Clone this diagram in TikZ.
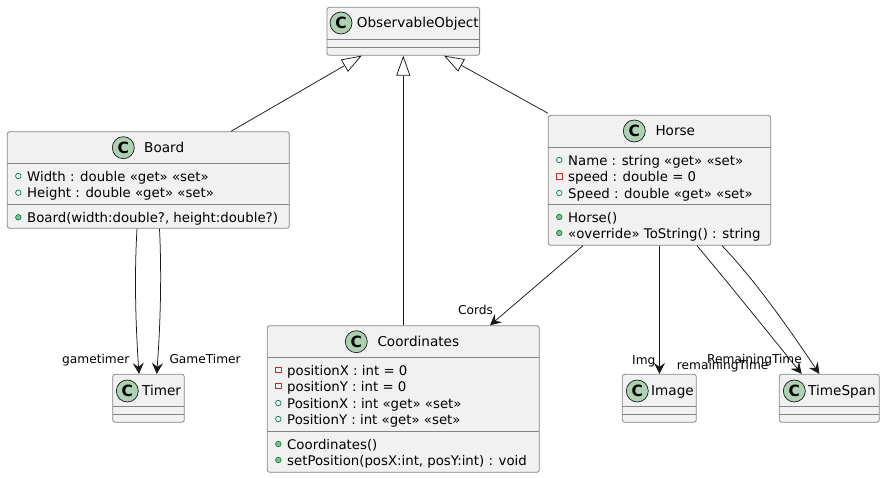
\documentclass[tikz,border=0pt]{standalone}
\usepackage{fontspec}
\setmainfont{DejaVu Sans}
\usetikzlibrary{arrows.meta}
\definecolor{boxfill}{HTML}{F1F1F1}
\definecolor{boxline}{HTML}{858585}
\definecolor{spotfill}{HTML}{ADD1B2}
\definecolor{edgeline}{HTML}{181818}
\definecolor{publine}{HTML}{038048}
\definecolor{pubfill}{HTML}{84BE84}
\definecolor{privline}{HTML}{C82930}
\tikzset{
	classbox/.style={draw=boxline, fill=boxfill, line width=0.8pt, rounded corners=2.5pt, inner sep=0pt},
	sepline/.style={draw=boxline, line width=0.8pt},
	spot/.style={circle, draw=edgeline, fill=spotfill, line width=0.7pt, minimum size=22pt, inner sep=0pt, font=\fontsize{15.5}{15.5}\selectfont\bfseries},
	title/.style={anchor=west, inner sep=0pt, text height=11pt, text depth=2pt, font=\fontsize{13.6}{15}\selectfont},
	member/.style={anchor=west, inner sep=0pt, text height=12pt, text depth=1.5pt, font=\fontsize{13.3}{15}\selectfont},
	edgelabel/.style={anchor=west, inner sep=0pt, text height=10.5pt, text depth=1.5pt, font=\fontsize{12.2}{14}\selectfont},
	pubfield/.style={circle, draw=publine, line width=0.7pt, minimum size=5.5pt, inner sep=0pt},
	pubmethod/.style={circle, draw=publine, fill=pubfill, line width=0.7pt, minimum size=5.5pt, inner sep=0pt},
	privfield/.style={rectangle, draw=privline, line width=0.7pt, minimum size=5.5pt, inner sep=0pt},
	extends/.style={draw=edgeline, line width=0.75pt, -{Triangle[open, length=20pt, width=14pt, fill=white]}},
	uses/.style={draw=edgeline, line width=0.75pt, -{Stealth[length=11pt, width=11pt, inset=4pt]}}
}

\begin{document}
\begin{tikzpicture}[x=1pt, y=-1pt]
	%%%%% START %%%%%
	\useasboundingbox (0, 0) rectangle (885, 478);
	
	\node[classbox, minimum width=152.6pt, minimum height=48pt] (observable) at (403.3, 31.3) {};
	\draw[sepline] (326.9, 39.3) -- (479.6, 39.3);
	\draw[sepline] (326.9, 47.3) -- (479.6, 47.3);
	\node[spot] (observablespot) at (341, 23) {C};
	\node[title] (observablename) at (356.7, 23) {ObservableObject};
	
	\node[classbox, minimum width=282pt, minimum height=96.6pt] (board) at (148.3, 180) {};
	\draw[sepline] (7.3, 163.3) -- (289.3, 163.3);
	\draw[sepline] (7.3, 204.3) -- (289.3, 204.3);
	\node[spot] (boardspot) at (123.3, 147.7) {C};
	\node[title] (boardname) at (144, 147.7) {Board};
	\node[pubfield] (boardicona) at (18.3, 176) {};
	\node[member] (boardwidth) at (27, 176) {Width : double «get» «set»};
	\node[pubfield] (boardiconb) at (18.3, 192.7) {};
	\node[member] (boardheight) at (27, 192.7) {Height : double «get» «set»};
	\node[pubmethod] (boardiconc) at (18.3, 217.3) {};
	\node[member] (boardctor) at (27, 217.3) {Board(width:double?, height:double?)};
	
	\node[classbox, minimum width=222.4pt, minimum height=130pt] (horse) at (659.5, 180.3) {};
	\draw[sepline] (548.3, 147.3) -- (770.7, 147.3);
	\draw[sepline] (548.3, 204) -- (770.7, 204);
	\node[spot] (horsespot) at (634.3, 131) {C};
	\node[title] (horsetitle) at (655.3, 131) {Horse};
	\node[pubfield] (horseicona) at (559.3, 160) {};
	\node[member] (horsename) at (568, 160) {Name : string «get» «set»};
	\node[privfield] (horseiconb) at (559.3, 176.3) {};
	\node[member] (horsespeedfield) at (568, 176.3) {speed : double = 0};
	\node[pubfield] (horseiconc) at (559.3, 193) {};
	\node[member] (horsespeed) at (568, 193) {Speed : double «get» «set»};
	\node[pubmethod] (horseicond) at (559.3, 217) {};
	\node[member] (horsector) at (568, 217) {Horse()};
	\node[pubmethod] (horseicone) at (559.3, 233) {};
	\node[member] (horsetostring) at (568, 233) {«override» ToString() : string};
	
	\node[classbox, minimum width=272pt, minimum height=146.6pt] (coordinates) at (403.3, 399) {};
	\draw[sepline] (267.3, 357.3) -- (539.3, 357.3);
	\draw[sepline] (267.3, 431.3) -- (539.3, 431.3);
	\node[spot] (coordinatesspot) at (356.3, 341.7) {C};
	\node[title] (coordinatesname) at (377.3, 341.7) {Coordinates};
	\node[privfield] (coordinatesicona) at (278.3, 370) {};
	\node[member] (coordinatesxfield) at (287, 370) {positionX : int = 0};
	\node[privfield] (coordinatesiconb) at (278.3, 386) {};
	\node[member] (coordinatesyfield) at (287, 386) {positionY : int = 0};
	\node[pubfield] (coordinatesiconc) at (278.3, 403) {};
	\node[member] (coordinatesx) at (287, 403) {PositionX : int «get» «set»};
	\node[pubfield] (coordinatesicond) at (278.3, 419) {};
	\node[member] (coordinatesy) at (287, 419) {PositionY : int «get» «set»};
	\node[pubmethod] (coordinatesicone) at (278.3, 444) {};
	\node[member] (coordinatesctor) at (287, 444) {Coordinates()};
	\node[pubmethod] (coordinatesiconf) at (278.3, 460) {};
	\node[member] (coordinatesset) at (287, 460) {setPosition(posX:int, posY:int) : void};
	
	\node[classbox, minimum width=71.6pt, minimum height=48pt] (timer) at (148.5, 398.3) {};
	\draw[sepline] (112.7, 406.3) -- (184.3, 406.3);
	\draw[sepline] (112.7, 414.3) -- (184.3, 414.3);
	\node[spot] (timerspot) at (127.3, 391) {C};
	\node[title] (timername) at (142, 391) {Timer};
	
	\node[classbox, minimum width=74pt, minimum height=48pt] (image) at (659.3, 398.3) {};
	\draw[sepline] (622.3, 406.3) -- (696.3, 406.3);
	\draw[sepline] (622.3, 414.3) -- (696.3, 414.3);
	\node[spot] (imagespot) at (637.3, 391) {C};
	\node[title] (imagename) at (651, 391) {Image};
	
	\node[classbox, minimum width=100pt, minimum height=48pt] (timespan) at (829.3, 398.3) {};
	\draw[sepline] (779.3, 406.3) -- (879.3, 406.3);
	\draw[sepline] (779.3, 414.3) -- (879.3, 414.3);
	\node[spot] (timespanspot) at (794.3, 391) {C};
	\node[title] (timespanname) at (808, 391) {TimeSpan};
	
	\draw[extends] ([xshift=82.7pt]board.north) -- ([xshift=-41.6pt]observable.south);
	\draw[extends] (coordinates.north) -- (observable.south);
	\draw[extends] ([yshift=1.7pt]horse.north west) -- ([xshift=40.7pt]observable.south);
	
	\draw[uses] ([xshift=-11.3pt]board.south) .. controls (134, 280) and (136, 330) .. ([xshift=-9.5pt]timer.north);
	\draw[uses] ([xshift=11.2pt]board.south) .. controls (162, 280) and (160, 330) .. ([xshift=8.2pt]timer.north);
	\draw[uses] ([xshift=-76.5pt]horse.south) -- ([xshift=86.7pt]coordinates.north);
	\draw[uses] (horse.south) -- ([xshift=0.2pt]image.north);
	\draw[uses] ([xshift=37.5pt]horse.south) .. controls (730, 285) and (770, 335) .. ([xshift=-27.6pt]timespan.north);
	\draw[uses] ([xshift=62.5pt]horse.south) .. controls (755, 280) and (790, 330) .. ([xshift=-10pt]timespan.north);
	
	\node[edgelabel] (gametimerlabel) at (62, 359) {gametimer};
	\node[edgelabel] (gametimerproplabel) at (169.3, 359) {GameTimer};
	\node[edgelabel] (cordslabel) at (458, 310) {Cords};
	\node[edgelabel] (imglabel) at (632, 360) {Img};
	\node[edgelabel] (remainingfieldlabel) at (676.7, 365) {remainingTime};
	\node[edgelabel] (remainingproplabel) at (707, 359) {RemainingTime};
	%%%%% END %%%%%
\end{tikzpicture}
\end{document}
